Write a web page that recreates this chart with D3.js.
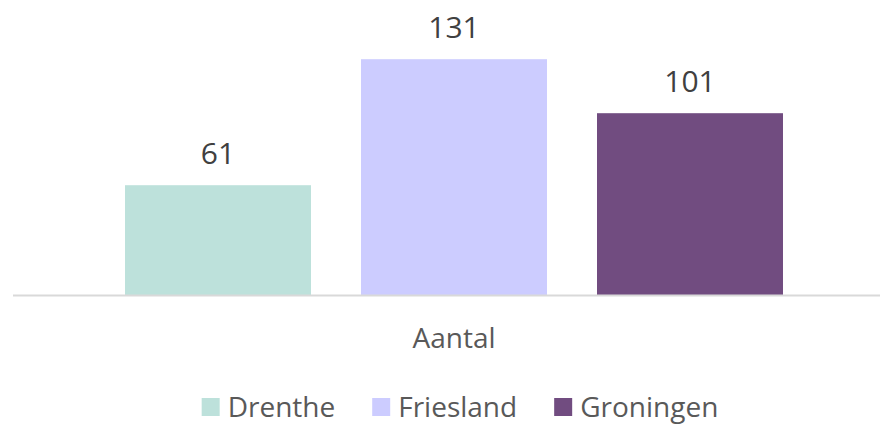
<!DOCTYPE html>
<html>
<head>
<meta charset="utf-8">
<script src="https://cdn.jsdelivr.net/npm/d3@7"></script>
<style>
  body { margin: 0; background: #fff; }
</style>
</head>
<body>
<div id="chart"></div>
<script>
const categories = ["Aantal"];
const series = ["Drenthe", "Friesland", "Groningen"];
const values = [61, 131, 101];
const colors = ["#BDE1DB", "#CCCCFF", "#714C80"];

const width = 880, height = 424;
const font = "'Open Sans', 'Noto Sans', sans-serif";

const svg = d3.select("#chart").append("svg")
    .attr("width", width)
    .attr("height", height);

const x0 = d3.scaleBand()
    .domain(categories)
    .range([20, 888])
    .paddingOuter(0.1596)
    .paddingInner(0);

const x1 = d3.scaleBand()
    .domain(series)
    .range([0, x0.bandwidth()])
    .paddingInner(0.2119)
    .paddingOuter(0);

const y = d3.scaleLinear()
    .domain([0, 140])
    .range([295, 43]);

const data = series.map((s, i) => ({ name: s, value: values[i], color: colors[i] }));

const group = svg.append("g")
    .attr("transform", `translate(${x0(categories[0])}, 0)`);

group.selectAll("rect")
    .data(data)
    .enter()
    .append("rect")
    .attr("x", d => x1(d.name))
    .attr("y", d => y(d.value))
    .attr("width", x1.bandwidth())
    .attr("height", d => y(0) - y(d.value))
    .attr("fill", d => d.color);

group.selectAll("text.label")
    .data(data)
    .enter()
    .append("text")
    .attr("class", "label")
    .attr("x", d => x1(d.name) + x1.bandwidth() / 2)
    .attr("y", d => y(d.value) - 21)
    .attr("text-anchor", "middle")
    .attr("font-family", font)
    .attr("font-size", 30)
    .attr("fill", "#404040")
    .text(d => d.value);

// baseline
svg.append("line")
    .attr("x1", 13)
    .attr("x2", 880)
    .attr("y1", y(0) + 0.5)
    .attr("y2", y(0) + 0.5)
    .attr("stroke", "#d9d9d9")
    .attr("stroke-width", 2);

// category label
svg.append("text")
    .attr("x", x0(categories[0]) + x0.bandwidth() / 2)
    .attr("y", 348)
    .attr("text-anchor", "middle")
    .attr("font-family", font)
    .attr("font-size", 28)
    .attr("fill", "#595959")
    .text(categories[0]);

// legend
const legend = svg.append("g");
let lx = 0;
data.forEach(d => {
    const item = legend.append("g").attr("transform", `translate(${lx}, 0)`);
    item.append("rect")
        .attr("x", 0)
        .attr("y", 398)
        .attr("width", 18)
        .attr("height", 18)
        .attr("fill", d.color);
    const t = item.append("text")
        .attr("x", 26)
        .attr("y", 417)
        .attr("font-family", font)
        .attr("font-size", 28)
        .attr("fill", "#595959")
        .text(d.name);
    lx += 26 + t.node().getComputedTextLength() + 37;
});
const legendW = lx - 37;
legend.attr("transform", `translate(${460 - legendW / 2}, 0)`);
</script>
</body>
</html>
